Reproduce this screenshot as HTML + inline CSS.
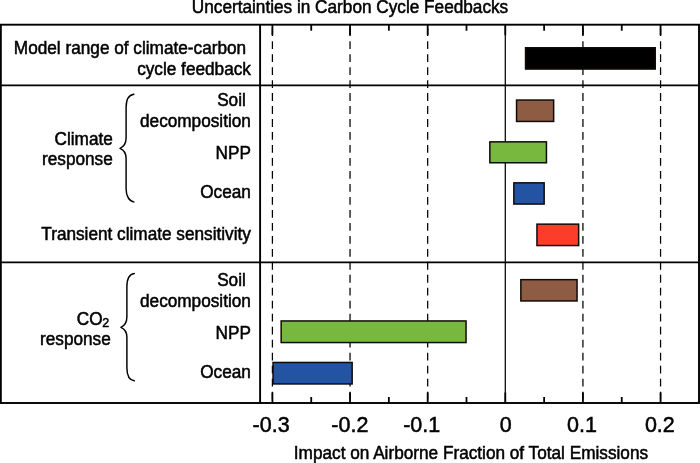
<!DOCTYPE html><html><head><meta charset="utf-8"><title>Uncertainties in Carbon Cycle Feedbacks</title>
<style>html,body{margin:0;padding:0;background:#fff;}body{width:700px;height:463px;overflow:hidden;}svg{display:block;}text{font-family:"Liberation Sans", Arial, Helvetica, sans-serif;fill:#000;}</style></head><body>
<svg style="will-change:transform" width="700" height="463" viewBox="0 0 700 463">
<rect width="700" height="463" fill="#fff"/>
<line x1="272.41" y1="28.22" x2="272.41" y2="402" stroke="#000" stroke-width="1.25" stroke-dasharray="7.8 5.18"/>
<line x1="350.04" y1="28.22" x2="350.04" y2="402" stroke="#000" stroke-width="1.25" stroke-dasharray="7.8 5.18"/>
<line x1="427.67" y1="28.22" x2="427.67" y2="402" stroke="#000" stroke-width="1.25" stroke-dasharray="7.8 5.18"/>
<line x1="505.30" y1="25.7" x2="505.30" y2="402" stroke="#000" stroke-width="1.25"/>
<line x1="582.93" y1="28.22" x2="582.93" y2="402" stroke="#000" stroke-width="1.25" stroke-dasharray="7.8 5.18"/>
<line x1="660.56" y1="28.22" x2="660.56" y2="402" stroke="#000" stroke-width="1.25" stroke-dasharray="7.8 5.18"/>
<line x1="272.41" y1="25" x2="272.41" y2="35.20" stroke="#000" stroke-width="1.8"/>
<line x1="272.41" y1="403" x2="272.41" y2="392.50" stroke="#000" stroke-width="1.8"/>
<line x1="311.23" y1="25" x2="311.23" y2="30.70" stroke="#000" stroke-width="1.8"/>
<line x1="311.23" y1="403" x2="311.23" y2="397.00" stroke="#000" stroke-width="1.8"/>
<line x1="350.04" y1="25" x2="350.04" y2="35.20" stroke="#000" stroke-width="1.8"/>
<line x1="350.04" y1="403" x2="350.04" y2="392.50" stroke="#000" stroke-width="1.8"/>
<line x1="388.86" y1="25" x2="388.86" y2="30.70" stroke="#000" stroke-width="1.8"/>
<line x1="388.86" y1="403" x2="388.86" y2="397.00" stroke="#000" stroke-width="1.8"/>
<line x1="427.67" y1="25" x2="427.67" y2="35.20" stroke="#000" stroke-width="1.8"/>
<line x1="427.67" y1="403" x2="427.67" y2="392.50" stroke="#000" stroke-width="1.8"/>
<line x1="466.49" y1="25" x2="466.49" y2="30.70" stroke="#000" stroke-width="1.8"/>
<line x1="466.49" y1="403" x2="466.49" y2="397.00" stroke="#000" stroke-width="1.8"/>
<line x1="505.30" y1="25" x2="505.30" y2="35.20" stroke="#000" stroke-width="1.8"/>
<line x1="505.30" y1="403" x2="505.30" y2="392.50" stroke="#000" stroke-width="1.8"/>
<line x1="544.12" y1="25" x2="544.12" y2="30.70" stroke="#000" stroke-width="1.8"/>
<line x1="544.12" y1="403" x2="544.12" y2="397.00" stroke="#000" stroke-width="1.8"/>
<line x1="582.93" y1="25" x2="582.93" y2="35.20" stroke="#000" stroke-width="1.8"/>
<line x1="582.93" y1="403" x2="582.93" y2="392.50" stroke="#000" stroke-width="1.8"/>
<line x1="621.75" y1="25" x2="621.75" y2="30.70" stroke="#000" stroke-width="1.8"/>
<line x1="621.75" y1="403" x2="621.75" y2="397.00" stroke="#000" stroke-width="1.8"/>
<line x1="660.56" y1="25" x2="660.56" y2="35.20" stroke="#000" stroke-width="1.8"/>
<line x1="660.56" y1="403" x2="660.56" y2="392.50" stroke="#000" stroke-width="1.8"/>
<rect x="525.55" y="47.75" width="129.70" height="21.30" fill="#000000" stroke="#100a08" stroke-width="1.50"/>
<rect x="516.55" y="100.05" width="37.10" height="21.40" fill="#8E5B43" stroke="#100a08" stroke-width="1.50"/>
<rect x="489.85" y="141.85" width="56.60" height="20.90" fill="#79B83F" stroke="#100a08" stroke-width="1.50"/>
<rect x="513.85" y="182.85" width="30.30" height="21.20" fill="#2354A3" stroke="#100a08" stroke-width="1.50"/>
<rect x="536.95" y="224.15" width="41.70" height="21.40" fill="#FE3C2A" stroke="#100a08" stroke-width="1.50"/>
<rect x="520.85" y="279.65" width="56.20" height="21.30" fill="#8E5B43" stroke="#100a08" stroke-width="1.50"/>
<rect x="281.15" y="320.95" width="184.90" height="21.60" fill="#79B83F" stroke="#100a08" stroke-width="1.50"/>
<rect x="273.05" y="362.45" width="79.10" height="21.50" fill="#2354A3" stroke="#100a08" stroke-width="1.50"/>
<rect x="0.85" y="24.7" width="698.15" height="378.3" fill="none" stroke="#000" stroke-width="1.9"/>
<line x1="260.1" y1="24.7" x2="260.1" y2="403" stroke="#000" stroke-width="1.9"/>
<line x1="0" y1="85.3" x2="699" y2="85.3" stroke="#000" stroke-width="1.8"/>
<line x1="0" y1="262.3" x2="699" y2="262.3" stroke="#000" stroke-width="1.8"/>
<path d="M133.90,94.20 C129.30,94.80 126.10,99.50 126.10,107.50 L126.10,137.80 C126.10,143.70 123.40,146.90 120.00,148.30 C123.40,149.70 126.10,152.90 126.10,158.30 L126.10,189.00 C126.10,196.50 129.50,201.20 133.90,201.90" fill="none" stroke="#000" stroke-width="1.45" stroke-linejoin="round" stroke-linecap="round"/>
<path d="M134.30,273.50 C129.70,274.10 126.90,278.80 126.90,286.80 L126.90,316.80 C126.90,322.70 124.30,325.90 120.90,327.30 C124.30,328.70 126.90,331.90 126.90,337.30 L126.90,367.90 C126.90,375.40 129.90,380.10 134.30,380.80" fill="none" stroke="#000" stroke-width="1.45" stroke-linejoin="round" stroke-linecap="round"/>
<text transform="translate(350.00,12.60) scale(1.000,1.060)" font-size="17.20" text-anchor="middle" stroke="#000" stroke-width="0.50">Uncertainties in Carbon Cycle Feedbacks</text>
<text transform="translate(246.12,53.70) scale(1.000,1.060)" font-size="17.20" text-anchor="end" stroke="#000" stroke-width="0.50">Model range of climate-carbon</text>
<text transform="translate(250.90,74.90) scale(1.000,1.060)" font-size="17.20" text-anchor="end" stroke="#000" stroke-width="0.50">cycle feedback</text>
<text transform="translate(245.82,105.50) scale(1.000,1.060)" font-size="17.20" text-anchor="end" stroke="#000" stroke-width="0.50">Soil</text>
<text transform="translate(250.90,126.80) scale(1.000,1.060)" font-size="17.20" text-anchor="end" stroke="#000" stroke-width="0.50">decomposition</text>
<text transform="translate(250.90,158.50) scale(1.000,1.060)" font-size="17.20" text-anchor="end" stroke="#000" stroke-width="0.50">NPP</text>
<text transform="translate(250.90,198.40) scale(1.000,1.060)" font-size="17.20" text-anchor="end" stroke="#000" stroke-width="0.50">Ocean</text>
<text transform="translate(245.82,285.50) scale(1.000,1.060)" font-size="17.20" text-anchor="end" stroke="#000" stroke-width="0.50">Soil</text>
<text transform="translate(250.90,306.80) scale(1.000,1.060)" font-size="17.20" text-anchor="end" stroke="#000" stroke-width="0.50">decomposition</text>
<text transform="translate(250.90,338.50) scale(1.000,1.060)" font-size="17.20" text-anchor="end" stroke="#000" stroke-width="0.50">NPP</text>
<text transform="translate(250.90,378.40) scale(1.000,1.060)" font-size="17.20" text-anchor="end" stroke="#000" stroke-width="0.50">Ocean</text>
<text transform="translate(250.90,239.60) scale(1.000,1.060)" font-size="17.20" text-anchor="end" stroke="#000" stroke-width="0.50">Transient climate sensitivity</text>
<text transform="translate(112.80,144.80) scale(1.000,1.060)" font-size="17.20" text-anchor="end" stroke="#000" stroke-width="0.50">Climate</text>
<text transform="translate(112.80,164.90) scale(1.000,1.060)" font-size="17.20" text-anchor="end" stroke="#000" stroke-width="0.50">response</text>
<text transform="translate(76.80,325.10) scale(1.000,1.060)" font-size="17.20" text-anchor="start" stroke="#000" stroke-width="0.50">CO</text>
<text transform="translate(102.30,326.60) scale(1.000,1.060)" font-size="12.50" text-anchor="start" stroke="#000" stroke-width="0.50">2</text>
<text transform="translate(110.80,344.50) scale(1.000,1.060)" font-size="17.20" text-anchor="end" stroke="#000" stroke-width="0.50">response</text>
<text transform="translate(252.55,432.00) scale(1.000,1.050)" font-size="21.50" text-anchor="start" stroke="#000" stroke-width="0.50">-0.3</text>
<text transform="translate(331.30,432.00) scale(1.000,1.050)" font-size="21.50" text-anchor="start" stroke="#000" stroke-width="0.50">-0.2</text>
<text transform="translate(403.20,432.00) scale(1.000,1.050)" font-size="21.50" text-anchor="start" stroke="#000" stroke-width="0.50">-0.1</text>
<text transform="translate(499.70,432.00) scale(1.000,1.050)" font-size="21.50" text-anchor="start" stroke="#000" stroke-width="0.50">0</text>
<text transform="translate(567.00,432.00) scale(1.000,1.050)" font-size="21.50" text-anchor="start" stroke="#000" stroke-width="0.50">0.1</text>
<text transform="translate(644.90,432.00) scale(1.000,1.050)" font-size="21.50" text-anchor="start" stroke="#000" stroke-width="0.50">0.2</text>
<text transform="translate(293.80,458.60) scale(1.000,1.060)" font-size="17.20" text-anchor="start" stroke="#000" stroke-width="0.50">Impact on Airborne Fraction of Total Emissions</text>
</svg></body></html>
